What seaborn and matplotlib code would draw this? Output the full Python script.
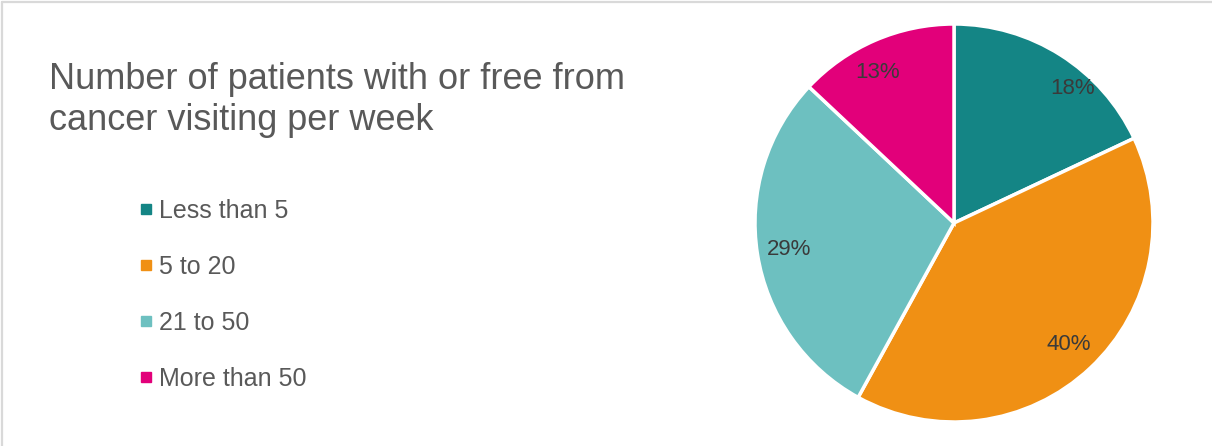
import matplotlib
matplotlib.use("Agg")
import numpy as np
import matplotlib.pyplot as plt
from matplotlib.lines import Line2D
import seaborn as sns

# Weekly visit bands and their share of patients (%)
categories = ["Less than 5", "5 to 20", "21 to 50", "More than 50"]
shares = [18, 40, 29, 13]
title = "Number of patients with or free from\ncancer visiting per week"

sns.set_theme(style="white")
plt.rcParams["font.family"] = ["Liberation Sans", "DejaVu Sans"]
palette = sns.color_palette(["#148585", "#F09014", "#6DC0C0", "#E2007A"])

W, H, DPI = 1212, 446, 100
fig = plt.figure(figsize=(W / DPI, H / DPI), dpi=DPI)

# Pie axes: centre (954, 223) px, radius 199 px
cx, cy, r = 954, 223, 199
ax = fig.add_axes([(cx - r) / W, (H - cy - r) / H, 2 * r / W, 2 * r / H])
wedges, texts, autotexts = ax.pie(
    shares,
    colors=palette,
    startangle=90,
    counterclock=False,
    radius=1.0,
    autopct="%1.0f%%",
    pctdistance=0.84,
    wedgeprops=dict(edgecolor="white", linewidth=2.5),
    textprops=dict(color="#3A3A3A", fontsize=16),
)
# first label sits a little further round and outward
ang = np.deg2rad(48.6)
autotexts[0].set_position((0.9 * np.cos(ang), 0.9 * np.sin(ang)))
# last label a touch further towards the slice edge
ang = np.deg2rad(117.0)
autotexts[3].set_position((0.85 * np.cos(ang), 0.85 * np.sin(ang)))
ax.set_xlim(-1, 1)
ax.set_ylim(-1, 1)
ax.set_aspect("equal")
ax.axis("off")

# Title
fig.text(49 / W, 1 - 62 / H, title, ha="left", va="top", fontsize=26,
         color="#595959", linespacing=1.24)

# Legend with square markers
handles = [Line2D([], [], marker="s", linestyle="none", markersize=7.5,
                  markerfacecolor=c, markeredgecolor=c) for c in palette]
fig.legend(handles, categories, loc="upper left",
           bbox_to_anchor=(128 / W, 1 - 189 / H), frameon=False,
           fontsize=18, labelcolor="#595959", handlelength=0.6,
           handletextpad=0.25, labelspacing=1.28, borderaxespad=0)

# Chart frame: top and left edges
frame = dict(color="#D9D9D9", linewidth=1.6, transform=fig.transFigure)
fig.add_artist(Line2D([2 / W, 1], [1 - 2 / H, 1 - 2 / H], **frame))
fig.add_artist(Line2D([2 / W, 2 / W], [0, 1 - 2 / H], **frame))

fig.savefig("out.png", dpi=DPI, facecolor="white")
